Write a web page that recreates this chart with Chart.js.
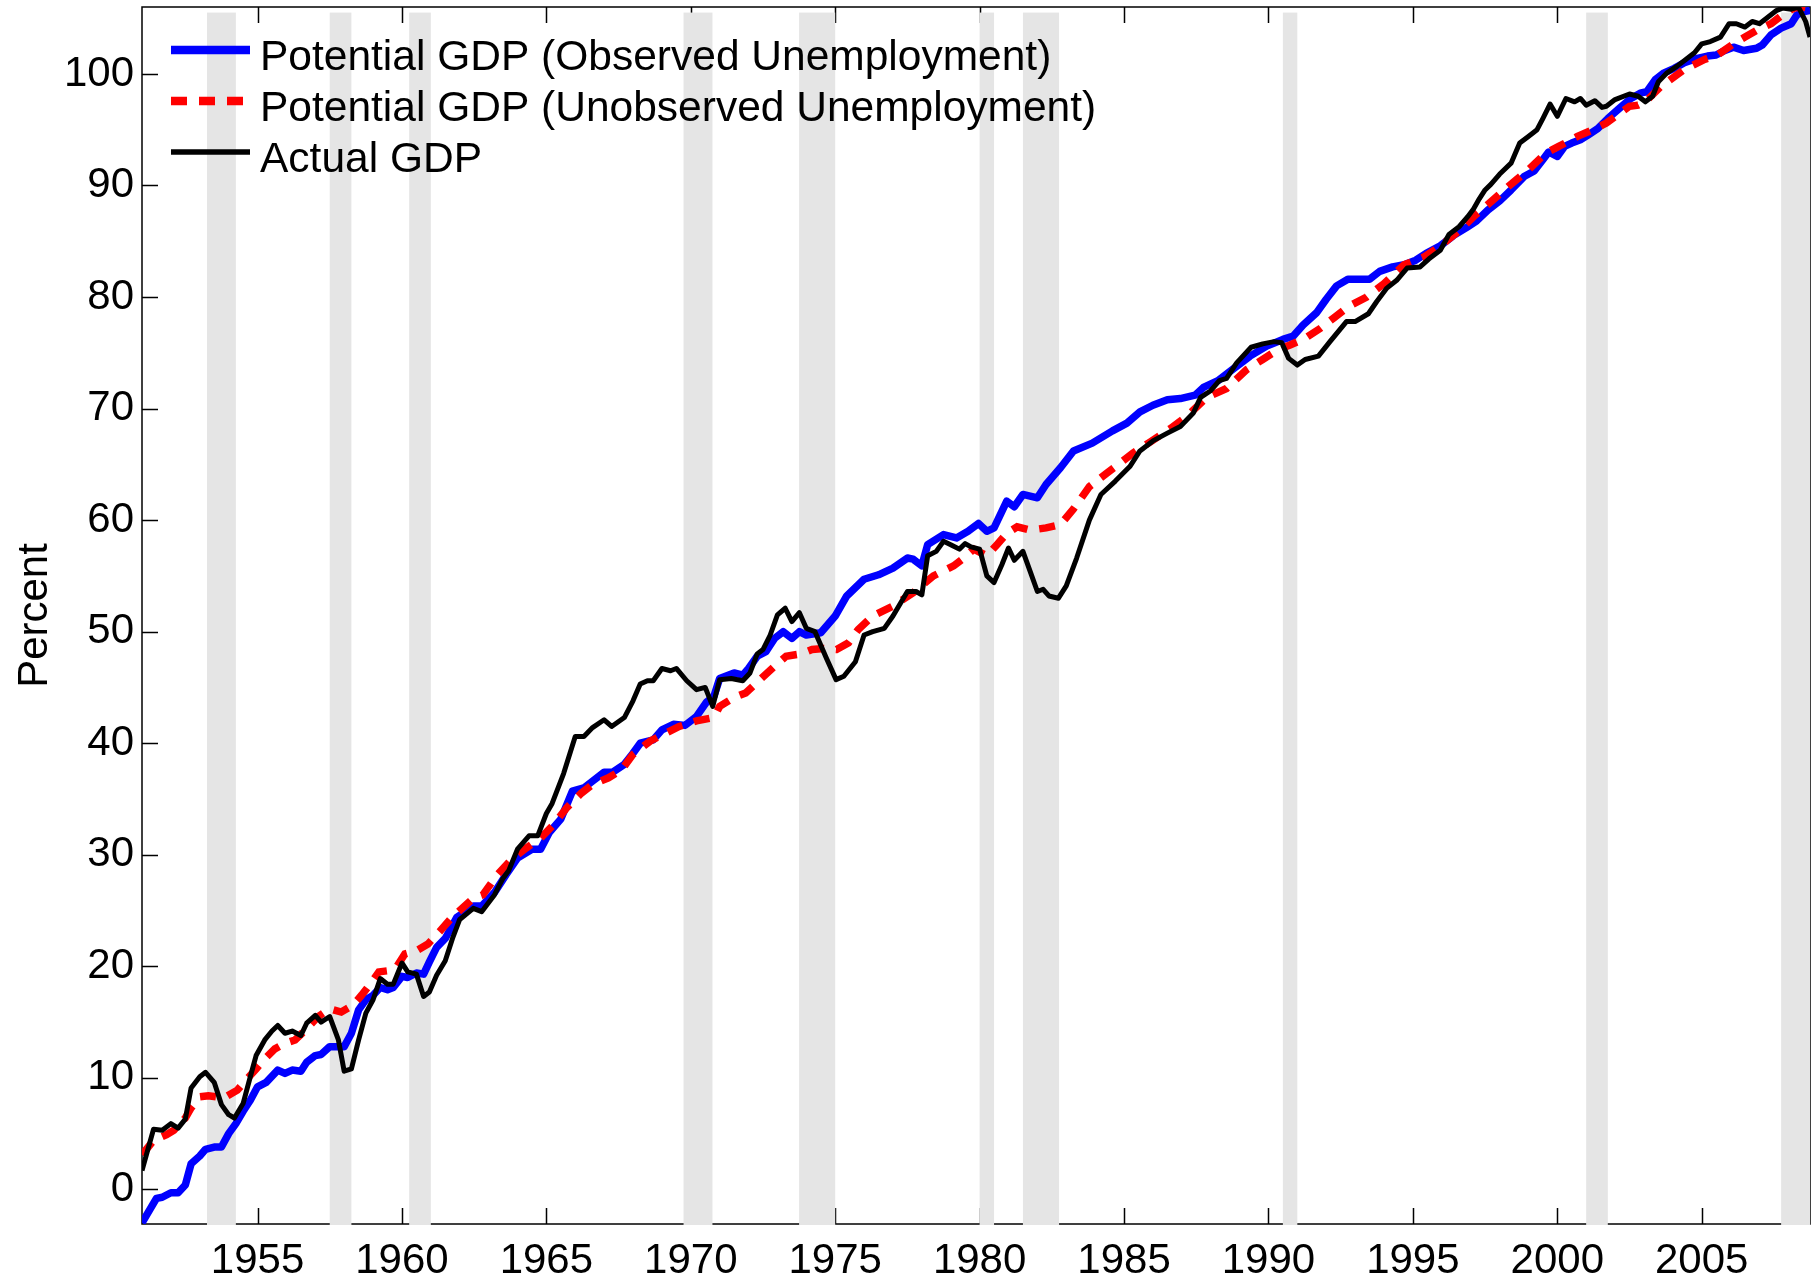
<!DOCTYPE html>
<html>
<head>
<meta charset="utf-8">
<script src="https://cdn.jsdelivr.net/npm/chart.js@4.4.1/dist/chart.umd.min.js"></script>
<style>
  html, body { margin: 0; padding: 0; background: #fff; }
  #wrap { width: 1812px; height: 1278px; }
</style>
</head>
<body>
<div id="wrap"><canvas id="myChart" width="1812" height="1278"></canvas></div>
<script>
// [year, percent]
const observedGdp = [
  [1951.0,-3.0],[1951.5,-0.8],[1951.7,-0.7],[1952.0,-0.3],[1952.25,-0.3],[1952.5,0.4],[1952.7,2.3],
  [1953.0,3.0],[1953.2,3.6],[1953.5,3.8],[1953.75,3.8],[1954.0,5.0],[1954.25,5.9],[1954.5,7.0],
  [1954.75,8.0],[1955.0,9.2],[1955.3,9.6],[1955.7,10.7],[1955.95,10.4],[1956.2,10.7],[1956.5,10.6],
  [1956.7,11.4],[1957.0,12.0],[1957.2,12.1],[1957.5,12.8],[1957.8,12.8],[1958.0,12.8],[1958.25,14.0],
  [1958.5,16.1],[1958.75,17.0],[1959.0,17.4],[1959.25,18.1],[1959.5,17.9],[1959.7,18.1],[1960.0,19.1],
  [1960.2,19.0],[1960.5,19.4],[1960.75,19.3],[1960.95,20.4],[1961.2,21.7],[1961.5,22.5],[1961.9,24.4],
  [1962.47,25.4],[1962.76,25.4],[1963.2,26.6],[1963.6,28.2],[1964.0,29.7],[1964.5,30.5],[1964.8,30.5],
  [1965.1,32.0],[1965.5,33.2],[1965.9,35.7],[1966.3,36.0],[1966.6,36.6],[1967.0,37.4],[1967.3,37.4],
  [1967.7,38.1],[1968.0,39.1],[1968.25,40.0],[1968.7,40.3],[1969.0,41.2],[1969.4,41.7],[1969.8,41.6],
  [1970.2,42.4],[1970.55,43.7],[1970.8,44.2],[1971.0,45.8],[1971.5,46.3],[1971.8,46.1],[1972.0,46.7],
  [1972.3,47.8],[1972.6,48.2],[1972.9,49.4],[1973.2,50.0],[1973.5,49.4],[1973.76,50.0],[1974.0,49.7],
  [1974.5,49.9],[1975.0,51.4],[1975.4,53.2],[1976.0,54.7],[1976.5,55.1],[1977.0,55.7],[1977.5,56.6],
  [1977.7,56.5],[1978.0,55.9],[1978.2,57.8],[1978.75,58.7],[1979.2,58.4],[1979.6,59.0],[1979.96,59.7],
  [1980.25,59.0],[1980.5,59.3],[1980.94,61.7],[1981.2,61.2],[1981.5,62.3],[1982.0,62.0],[1982.3,63.2],
  [1982.8,64.7],[1983.25,66.2],[1983.9,66.9],[1984.6,68.0],[1985.1,68.7],[1985.55,69.7],[1986.0,70.3],
  [1986.5,70.8],[1986.95,70.9],[1987.46,71.2],[1987.75,71.9],[1988.25,72.5],[1988.8,73.6],[1989.36,74.7],
  [1989.94,75.6],[1990.5,76.2],[1990.86,76.5],[1991.2,77.5],[1991.67,78.6],[1992.0,79.8],[1992.36,81.0],
  [1992.75,81.6],[1993.1,81.6],[1993.5,81.6],[1993.85,82.3],[1994.3,82.7],[1994.7,82.9],[1995.1,83.3],
  [1995.45,83.9],[1995.95,84.6],[1996.4,85.5],[1996.9,86.3],[1997.2,86.8],[1997.6,87.8],[1998.0,88.6],
  [1998.4,89.6],[1998.85,90.8],[1999.2,91.3],[1999.5,92.3],[1999.7,93.0],[2000.0,92.6],[2000.25,93.5],
  [2000.5,93.8],[2000.8,94.1],[2001.05,94.5],[2001.4,95.1],[2001.75,96.0],[2002.1,96.8],[2002.55,97.8],
  [2002.9,98.3],[2003.1,98.4],[2003.4,99.5],[2003.7,100.1],[2004.05,100.5],[2004.4,101.0],[2004.85,101.4],
  [2005.2,101.6],[2005.5,101.7],[2005.8,102.1],[2006.1,102.4],[2006.45,102.1],[2006.9,102.3],[2007.1,102.6],
  [2007.4,103.5],[2007.75,104.1],[2008.1,104.5],[2008.3,105.3],[2008.55,105.6],[2008.75,105.7]
];

const unobservedGdp = [
  [1951.0,3.1],[1951.4,4.4],[1951.85,4.9],[1952.1,5.3],[1952.5,6.4],[1952.7,7.3],[1953.0,8.3],
  [1953.3,8.4],[1953.6,8.3],[1953.9,8.3],[1954.3,8.9],[1954.6,9.8],[1954.95,10.8],[1955.25,11.7],
  [1955.6,12.6],[1955.95,13.1],[1956.3,13.4],[1956.7,14.4],[1957.1,15.5],[1957.5,16.2],[1957.9,15.9],
  [1958.3,16.5],[1958.6,17.4],[1958.9,18.4],[1959.2,19.5],[1959.5,19.6],[1959.8,19.9],[1960.1,21.1],
  [1960.5,21.4],[1960.9,22.0],[1961.3,23.1],[1961.7,24.3],[1962.0,25.0],[1962.47,26.1],[1962.8,26.4],
  [1963.3,28.2],[1963.8,29.6],[1964.3,30.6],[1964.8,31.5],[1965.25,32.7],[1965.7,34.2],[1966.2,35.5],
  [1966.6,36.3],[1967.15,36.9],[1967.6,37.6],[1968.0,39.0],[1968.6,40.2],[1969.05,40.8],[1969.6,41.5],
  [1970.2,42.0],[1970.8,42.3],[1971.0,43.3],[1971.5,44.1],[1971.9,44.5],[1972.4,45.7],[1972.9,46.9],
  [1973.3,47.8],[1973.8,48.0],[1974.2,48.4],[1974.6,48.5],[1975.05,48.4],[1975.46,49.0],[1975.8,50.2],
  [1976.3,51.4],[1977.0,52.3],[1977.7,53.5],[1978.4,55.0],[1979.1,55.9],[1979.4,56.5],[1979.8,57.4],
  [1980.25,56.8],[1980.6,57.8],[1980.94,58.8],[1981.3,59.4],[1981.75,59.1],[1982.3,59.3],[1982.8,59.6],
  [1983.25,61.0],[1983.8,63.0],[1984.4,64.2],[1984.86,65.1],[1985.3,66.0],[1985.9,67.0],[1986.6,68.2],
  [1987.17,69.3],[1987.86,71.0],[1988.55,71.8],[1989.25,73.5],[1989.8,74.4],[1990.34,75.3],[1990.75,75.7],
  [1991.27,76.3],[1991.8,77.2],[1992.25,78.1],[1992.8,79.2],[1993.4,80.0],[1994.0,81.2],[1994.7,82.9],
  [1995.4,83.6],[1996.06,84.8],[1996.63,86.0],[1997.1,87.2],[1997.6,88.3],[1998.3,89.9],[1999.0,91.4],
  [1999.6,92.9],[2000.05,93.5],[2000.7,94.4],[2001.15,94.9],[2001.7,95.6],[2002.5,97.1],[2002.8,97.2],
  [2003.05,97.5],[2003.6,98.9],[2004.4,100.4],[2005.1,101.3],[2005.55,101.7],[2006.1,102.7],[2006.5,103.3],
  [2006.9,103.9],[2007.4,104.5],[2007.85,105.4],[2008.2,105.9],[2008.45,106.0],[2008.75,105.9]
];

const actualGdp = [
  [1951.0,1.7],[1951.4,5.4],[1951.7,5.3],[1952.0,5.9],[1952.25,5.5],[1952.5,6.3],[1952.7,9.1],
  [1953.0,10.1],[1953.2,10.5],[1953.5,9.6],[1953.75,7.6],[1954.0,6.7],[1954.2,6.4],[1954.5,7.7],
  [1954.75,10.1],[1954.95,12.0],[1955.25,13.4],[1955.5,14.2],[1955.7,14.7],[1955.95,14.0],[1956.2,14.2],
  [1956.5,13.8],[1956.7,14.9],[1957.0,15.6],[1957.2,15.0],[1957.5,15.5],[1957.8,13.4],[1958.0,10.6],
  [1958.25,10.8],[1958.5,13.4],[1958.75,15.8],[1959.0,17.0],[1959.25,18.9],[1959.5,18.4],[1959.7,18.4],
  [1960.0,20.3],[1960.2,19.5],[1960.5,19.3],[1960.75,17.3],[1960.95,17.7],[1961.2,19.2],[1961.5,20.5],
  [1961.75,22.5],[1962.0,24.2],[1962.47,25.2],[1962.76,24.9],[1963.2,26.4],[1963.5,27.9],[1963.7,28.6],
  [1964.0,30.5],[1964.4,31.7],[1964.7,31.7],[1965.0,33.7],[1965.2,34.6],[1965.6,37.3],[1966.0,40.6],
  [1966.3,40.6],[1966.6,41.4],[1967.0,42.1],[1967.26,41.5],[1967.7,42.3],[1968.0,43.8],[1968.25,45.3],
  [1968.5,45.6],[1968.7,45.6],[1969.0,46.7],[1969.3,46.5],[1969.5,46.7],[1969.86,45.6],[1970.2,44.8],
  [1970.5,45.0],[1970.76,43.3],[1971.0,45.7],[1971.4,45.8],[1971.8,45.6],[1972.05,46.3],[1972.3,48.0],
  [1972.5,48.4],[1972.75,49.7],[1973.0,51.5],[1973.27,52.1],[1973.5,50.9],[1973.76,51.7],[1974.0,50.3],
  [1974.3,50.0],[1974.7,47.6],[1975.03,45.7],[1975.3,46.0],[1975.7,47.3],[1976.0,49.7],[1976.3,50.0],
  [1976.7,50.3],[1977.0,51.4],[1977.5,53.6],[1977.8,53.6],[1978.0,53.3],[1978.2,56.8],[1978.5,57.2],
  [1978.75,58.1],[1979.0,57.8],[1979.3,57.4],[1979.5,57.9],[1979.7,57.6],[1980.0,57.4],[1980.25,55.0],
  [1980.5,54.4],[1980.77,56.0],[1981.0,57.5],[1981.2,56.4],[1981.5,57.2],[1981.75,55.4],[1982.0,53.6],
  [1982.2,53.8],[1982.4,53.2],[1982.73,53.0],[1983.0,54.1],[1983.36,56.6],[1983.8,60.0],[1984.2,62.3],
  [1984.7,63.5],[1985.2,64.8],[1985.55,66.2],[1986.0,67.1],[1986.5,67.8],[1986.95,68.4],[1987.4,69.6],
  [1987.65,71.0],[1988.0,71.6],[1988.3,72.5],[1988.55,72.7],[1988.9,74.1],[1989.4,75.5],[1989.8,75.8],
  [1990.2,76.0],[1990.46,75.9],[1990.7,74.5],[1991.0,73.9],[1991.27,74.4],[1991.73,74.7],[1992.13,76.0],
  [1992.7,77.8],[1993.0,77.8],[1993.46,78.5],[1993.75,79.6],[1994.1,80.8],[1994.44,81.5],[1994.8,82.6],
  [1995.25,82.7],[1995.55,83.4],[1995.95,84.2],[1996.25,85.6],[1996.6,86.3],[1996.9,87.2],[1997.1,87.9],
  [1997.3,88.8],[1997.5,89.6],[1997.7,90.1],[1998.0,91.0],[1998.4,92.0],[1998.7,93.8],[1999.0,94.4],
  [1999.3,95.0],[1999.5,96.0],[1999.75,97.3],[2000.0,96.2],[2000.3,97.8],[2000.6,97.5],[2000.8,97.8],
  [2001.0,97.2],[2001.3,97.6],[2001.55,97.0],[2001.7,97.1],[2002.0,97.7],[2002.5,98.2],[2002.8,98.0],
  [2003.05,97.5],[2003.3,98.0],[2003.5,99.3],[2003.8,100.1],[2004.15,100.7],[2004.45,101.3],[2004.75,101.9],
  [2005.0,102.7],[2005.3,102.9],[2005.65,103.3],[2005.95,104.5],[2006.2,104.5],[2006.5,104.2],[2006.75,104.7],
  [2007.0,104.5],[2007.3,105.1],[2007.6,105.7],[2007.8,105.9],[2008.1,105.8],[2008.35,106.0],[2008.6,104.7],
  [2008.75,103.3]
];

// NBER recessions, [start, end] in years
const recessions = [
  [1953.25,1954.25],[1957.5,1958.25],[1960.25,1961.0],[1969.75,1970.75],[1973.75,1975.0],
  [1980.0,1980.5],[1981.5,1982.75],[1990.5,1991.0],[2001.0,2001.75],[2007.75,2008.75]
];
const recessionTop = 105.5;

const xTickYears = [1955,1960,1965,1970,1975,1980,1985,1990,1995,2000,2005];
const yTickValues = [0,10,20,30,40,50,60,70,80,90,100];

const FONT = '"Liberation Sans", Arial, Helvetica, sans-serif';
const TICK_LEN = 16;

function toPoints(pairs) {
    return pairs.map(p => ({ x: p[0], y: p[1] }));
}

// axes box with inward ticks, then the recession shading on top of it
const backdrop = {
    id: 'backdrop',
    beforeDatasetsDraw(chart) {
        const { ctx, chartArea: a, scales } = chart;
        ctx.save();
        ctx.strokeStyle = '#000';
        ctx.lineWidth = 1.5;
        ctx.strokeRect(a.left, a.top, a.right - a.left, a.bottom - a.top);
        ctx.beginPath();
        xTickYears.forEach(v => {
            const x = Math.round(scales.x.getPixelForValue(v)) + 0.5;
            ctx.moveTo(x, a.bottom); ctx.lineTo(x, a.bottom - TICK_LEN);
            ctx.moveTo(x, a.top); ctx.lineTo(x, a.top + TICK_LEN);
        });
        yTickValues.forEach(v => {
            const y = Math.round(scales.y.getPixelForValue(v)) + 0.5;
            ctx.moveTo(a.left, y); ctx.lineTo(a.left + TICK_LEN, y);
            ctx.moveTo(a.right, y); ctx.lineTo(a.right - TICK_LEN, y);
        });
        ctx.stroke();

        ctx.fillStyle = '#e5e5e5';
        const yTop = scales.y.getPixelForValue(recessionTop);
        recessions.forEach(r => {
            const x0 = scales.x.getPixelForValue(r[0]);
            const x1 = scales.x.getPixelForValue(r[1]);
            ctx.fillRect(x0, yTop, x1 - x0, a.bottom + 1 - yTop);
        });
        ctx.restore();
    }
};

// legend inside the plot, no box
const insideLegend = {
    id: 'insideLegend',
    afterDatasetsDraw(chart) {
        const { ctx, chartArea: a } = chart;
        ctx.save();
        ctx.font = '42.5px ' + FONT;
        ctx.textBaseline = 'alphabetic';
        ctx.fillStyle = '#000';
        chart.data.datasets.forEach((ds, i) => {
            const y = a.top + 43 + i * 51;
            ctx.beginPath();
            ctx.strokeStyle = ds.borderColor;
            ctx.lineWidth = ds.legendWidth;
            ctx.setLineDash(ds.borderDash || []);
            ctx.moveTo(a.left + 29, y);
            ctx.lineTo(a.left + 108, y);
            ctx.stroke();
            ctx.setLineDash([]);
            ctx.fillText(ds.label, a.left + 118, y + 20);
        });
        ctx.restore();
    }
};

new Chart(document.getElementById('myChart'), {
    type: 'line',
    data: {
        datasets: [
            {
                label: 'Potential GDP (Observed Unemployment)',
                data: toPoints(observedGdp),
                borderColor: '#0000ff',
                borderWidth: 7.5,
                legendWidth: 8.5,
                borderJoinStyle: 'round',
                order: 3
            },
            {
                label: 'Potential GDP (Unobserved Unemployment)',
                data: toPoints(unobservedGdp),
                borderColor: '#ff0000',
                borderWidth: 7.5,
                legendWidth: 8.5,
                borderDash: [16, 12],
                order: 2
            },
            {
                label: 'Actual GDP',
                data: toPoints(actualGdp),
                borderColor: '#000000',
                borderWidth: 5,
                legendWidth: 5.5,
                borderJoinStyle: 'round',
                order: 1
            }
        ]
    },
    options: {
        responsive: false,
        animation: false,
        events: [],
        elements: { point: { radius: 0 }, line: { tension: 0, fill: false } },
        layout: { padding: { top: 7, right: 2, left: 0, bottom: 0 } },
        plugins: { legend: { display: false }, tooltip: { enabled: false } },
        scales: {
            x: {
                type: 'linear',
                min: 1951,
                max: 2008.75,
                grid: { display: false },
                border: { display: false },
                afterBuildTicks: axis => { axis.ticks = xTickYears.map(v => ({ value: v })); },
                afterFit: axis => {
                    axis.height = 54;
                    axis.paddingLeft = 0;
                    axis.paddingRight = 0;
                },
                ticks: {
                    autoSkip: false,
                    maxRotation: 0,
                    padding: 4,
                    color: '#000',
                    font: { family: FONT, size: 42 },
                    callback: v => String(v)
                }
            },
            y: {
                min: -3.1,
                max: 106,
                grid: { display: false },
                border: { display: false },
                afterBuildTicks: axis => { axis.ticks = yTickValues.map(v => ({ value: v })); },
                afterFit: axis => {
                    axis.width = 142;
                    axis.paddingTop = 0;
                    axis.paddingBottom = 0;
                },
                ticks: {
                    padding: 0,
                    color: '#000',
                    font: { family: FONT, size: 42 },
                    callback: v => String(v)
                },
                title: {
                    display: true,
                    text: 'Percent',
                    color: '#000',
                    padding: { top: 10, bottom: 0 },
                    font: { family: FONT, size: 42 }
                }
            }
        }
    },
    plugins: [backdrop, insideLegend]
});
</script>
</body>
</html>
